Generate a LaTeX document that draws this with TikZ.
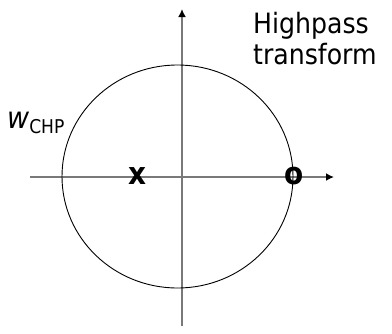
\documentclass[tikz,border=0pt]{standalone}
\usepackage{fontspec}
\setmainfont{DejaVu Sans Condensed}
\usetikzlibrary{arrows.meta}
\tikzset{
  axis/.style={draw=gray!95!black, line width=1.8pt, -{Latex[black,length=8pt,width=8pt]}},
  curve/.style={draw=black, line width=0.9pt},
  pzmark/.style={font=\fontsize{31}{31}\selectfont\bfseries, inner sep=0pt},
  lbl/.style={font=\fontsize{30}{30}\selectfont, inner sep=0pt},
  title/.style={font=\fontsize{28}{31}\selectfont, inner sep=0pt, align=left, anchor=base west}
}
\begin{document}
\begin{tikzpicture}[x=1pt,y=-1pt]
\useasboundingbox (0,0) rectangle (392,333);
\coordinate (hL) at (30,177);
\coordinate (hR) at (334,177);
\coordinate (vB) at (182,326);
\coordinate (vT) at (182,9);
\draw[axis] (hL) -- (hR);
\draw[axis] (vB) -- (vT);
\draw[curve] (177.5,176.5) ellipse [x radius=115.5, y radius=111.5];
\node[pzmark, anchor=base] (xm) at (137,184) {x};
\node[pzmark, anchor=base] (om) at (294.5,184) {o};
\node[lbl, anchor=base west] (wl) at (7,128) {\textit{w}\raisebox{-5pt}{\fontsize{19}{19}\selectfont CHP}};
\node[title] (tt) at (253,64) {Highpass\\transform};
\end{tikzpicture}
\end{document}
